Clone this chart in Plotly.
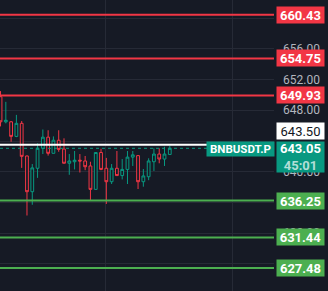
import plotly.graph_objects as go

# ---- data ----
opens  = [649.77, 646.5, 646.5, 644.6, 646.3, 642.05, 637.4, 640.45, 643.05, 644.5,
          642.4, 644.1, 642.95, 641.1, 641.3, 641.5, 641.4, 640.75, 637.7, 642.5,
          640.45, 638.7, 640.45, 639.5, 640.3, 641.9, 642.1, 638.7, 639.35, 641.3,
          642.3, 641.65, 642.25]
highs  = [650.5, 649.1, 646.6, 647.4, 646.6, 642.1, 641.0, 643.7, 645.5, 645.4,
          644.6, 645.4, 644.35, 642.3, 642.7, 642.3, 642.05, 641.3, 642.55, 643.0,
          641.8, 641.0, 642.7, 641.65, 642.7, 642.7, 642.1, 640.35, 641.75, 643.05,
          643.05, 643.25, 643.35]
lows   = [645.9, 646.3, 643.9, 644.5, 640.5, 634.3, 635.7, 639.2, 642.3, 642.1,
          642.4, 642.6, 641.1, 639.6, 640.3, 639.9, 640.2, 636.3, 637.7, 640.2,
          635.8, 638.4, 639.5, 639.0, 638.4, 640.75, 637.75, 638.05, 638.9, 640.1,
          641.1, 640.75, 642.25]
closes = [646.5, 646.7, 644.6, 646.3, 642.0, 637.4, 640.5, 643.05, 644.5, 642.4,
          644.1, 642.9, 641.1, 641.4, 641.5, 641.4, 640.65, 637.7, 642.5, 640.3,
          638.7, 640.45, 639.5, 640.3, 641.9, 642.2, 638.7, 639.45, 641.4, 642.3,
          641.65, 642.3, 643.05]
xs = list(range(len(opens)))

resistance_levels = [660.43, 654.75, 649.93]
support_levels = [636.25, 631.44, 627.48]
white_level = 643.50
last_price = 643.05
countdown = "45:01"
symbol = "BNBUSDT.P"
tick_values = [628, 632, 636, 640, 644, 648, 652, 656, 660]
tick_labels = ["", "632.00", "", "640.00", "", "648.00", "652.00", "656.00", ""]
vgrid_positions = [19.85, 43.86]

BG = "#161A25"
GRID = "#262A36"
UP = "#089981"
DOWN = "#F23645"
GREEN = "#4CAF50"
FONT = "Roboto"

fig = go.Figure()
fig.add_trace(go.Candlestick(
    x=xs, open=opens, high=highs, low=lows, close=closes,
    increasing=dict(line=dict(color=UP, width=1), fillcolor=BG),
    decreasing=dict(line=dict(color=DOWN, width=1), fillcolor=BG),
    whiskerwidth=0, showlegend=False, hoverinfo="skip",
))

shapes = []
for lv in resistance_levels:
    shapes.append(dict(type="line", xref="paper", x0=0, x1=1, yref="y", y0=lv, y1=lv,
                       line=dict(color=DOWN, width=2)))
for lv in support_levels:
    shapes.append(dict(type="line", xref="paper", x0=0, x1=1, yref="y", y0=lv, y1=lv,
                       line=dict(color=GREEN, width=2)))
shapes.append(dict(type="line", xref="paper", x0=0, x1=1, yref="y", y0=white_level, y1=white_level,
                   line=dict(color="#FFFFFF", width=2)))
shapes.append(dict(type="line", xref="paper", x0=0, x1=1, yref="y", y0=last_price, y1=last_price,
                   line=dict(color=UP, width=1, dash="dot")))

annotations = []
def box(level, text, bg, fg, yshift=0, yanchor="middle", height=14, width=45):
    annotations.append(dict(
        xref="paper", x=1, xanchor="left", xshift=2,
        yref="y", y=level, yanchor=yanchor, yshift=yshift,
        text=text, showarrow=False, bgcolor=bg, borderpad=1,
        width=width, height=height, align="center",
        font=dict(family=FONT, size=13, color=fg, weight="bold"),
    ))

for lv in resistance_levels:
    box(lv, f"{lv:.2f}", DOWN, "#FFFFFF")
for lv in support_levels:
    box(lv, f"{lv:.2f}", GREEN, "#FFFFFF")
annotations.append(dict(
    xref="paper", x=1, xanchor="left", xshift=2,
    yref="y", y=white_level, yanchor="middle", yshift=13.8,
    text=f"{white_level:.2f}", showarrow=False, bgcolor="#FFFFFF", borderpad=1,
    width=45, height=14, align="center",
    font=dict(family=FONT, size=13, color="#131722"),
))
box(last_price, f"{last_price:.2f}<br><span style='color:rgba(255,255,255,0.7)'>{countdown}</span>",
    UP, "#FFFFFF", yshift=7.3, yanchor="top", height=28)
annotations.append(dict(
    xref="paper", x=1, xanchor="right", xshift=1,
    yref="y", y=last_price, yanchor="top", yshift=7.3,
    text=symbol, showarrow=False, bgcolor=UP, borderpad=1,
    width=65, height=12, align="center",
    font=dict(family=FONT, size=11.5, color="#FFFFFF", weight="bold"),
))

fig.update_layout(
    width=328, height=291,
    margin=dict(l=0, r=54, t=0, b=0),
    paper_bgcolor=BG, plot_bgcolor=BG,
    shapes=shapes, annotations=annotations,
    boxgap=0.25,
    xaxis=dict(range=[-0.1, 51.7], rangeslider=dict(visible=False),
               tickvals=vgrid_positions, showticklabels=False,
               showgrid=True, gridcolor=GRID, gridwidth=1, zeroline=False,
               showline=False, fixedrange=True),
    yaxis=dict(range=[624.47, 662.36], side="right",
               tickvals=tick_values, ticktext=tick_labels,
               tickfont=dict(family=FONT, size=12, color="#B2B5BE"),
               showgrid=True, gridcolor=GRID, gridwidth=1, zeroline=False,
               showline=False, ticks="", ticklabelstandoff=8, fixedrange=True),
)

fig.write_html("out.html", config={"displayModeBar": False})
